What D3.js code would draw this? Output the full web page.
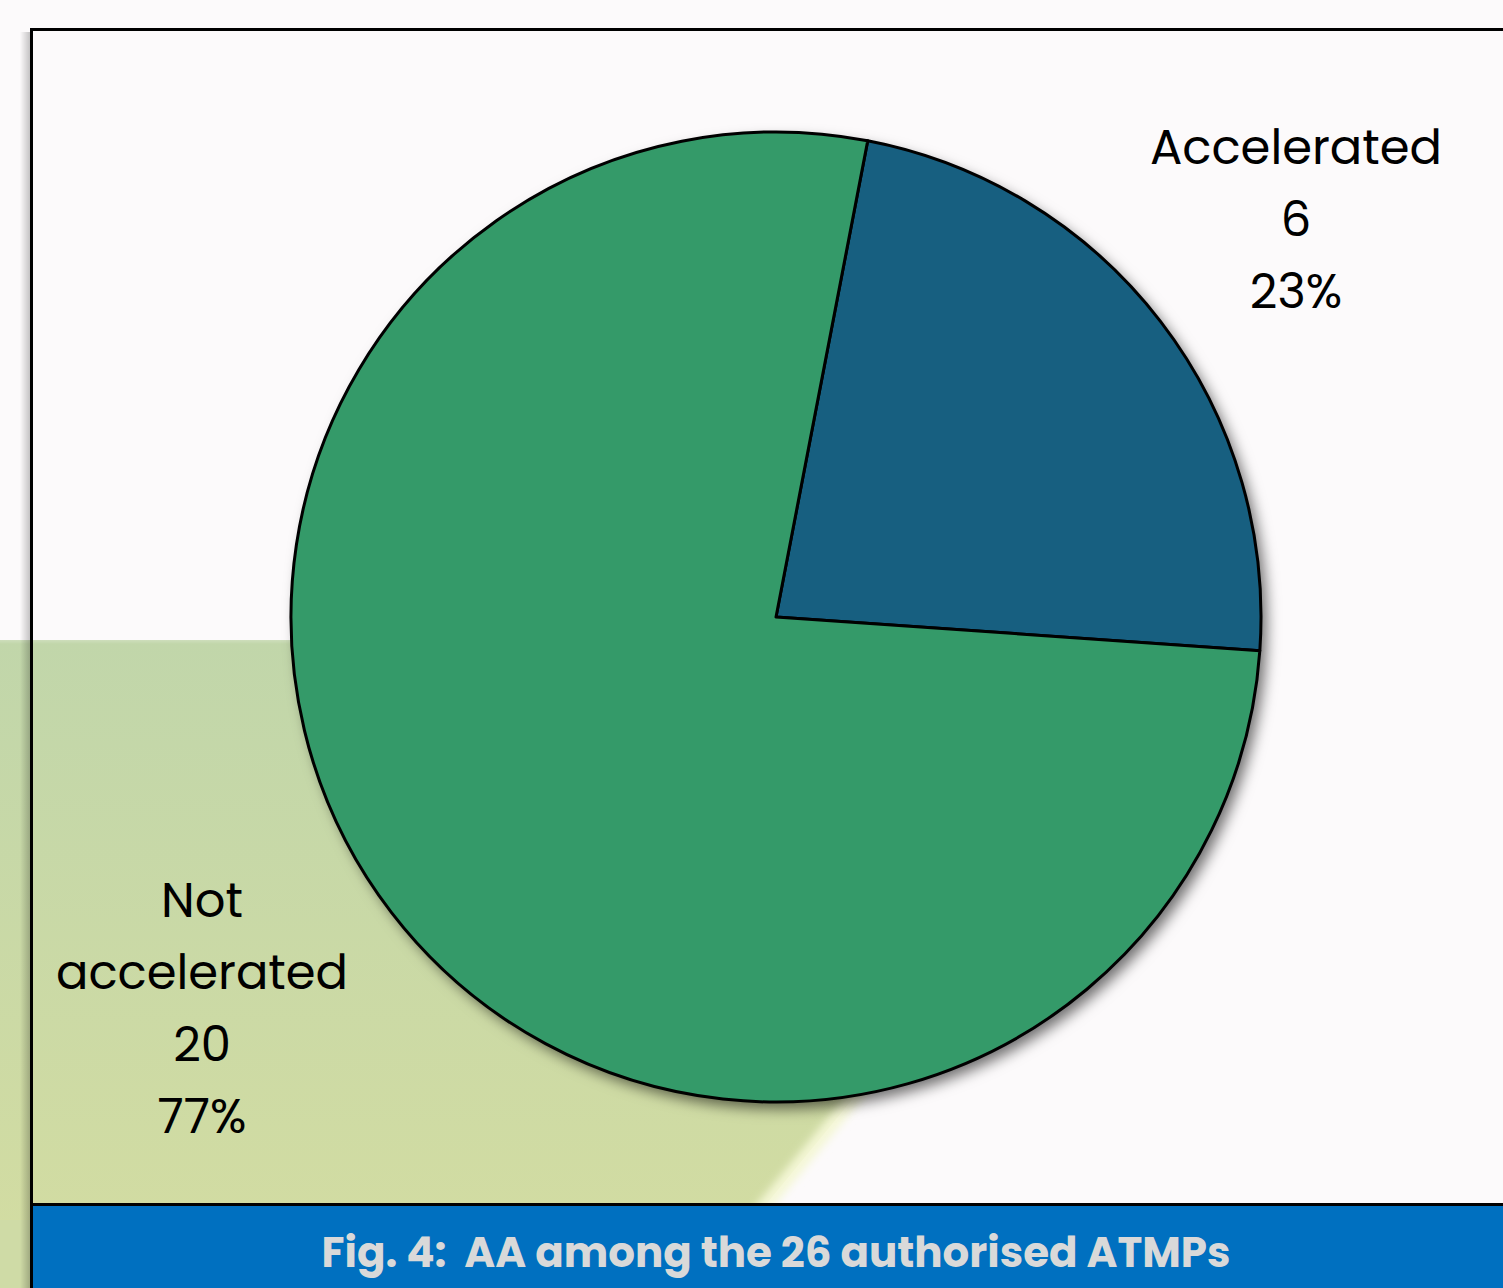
<!DOCTYPE html>
<html>
<head>
<meta charset="utf-8">
<script src="https://cdn.jsdelivr.net/npm/d3@7"></script>
<style>
  html, body { margin: 0; padding: 0; background: #fcfafb; }
  svg { display: block; }
</style>
</head>
<body>
<div id="chart"></div>
<script>
const categories = ["Accelerated", "Not accelerated"];
const counts = [6, 20];
const colors = ["#175f80", "#349a69"];
const caption = "Fig. 4:  AA among the 26 authorised ATMPs";

const width = 1503;
const height = 1288;

const svg = d3.select("#chart").append("svg")
    .attr("width", width)
    .attr("height", height)
    .attr("viewBox", [0, 0, width, height]);

const defs = svg.append("defs");

// drop shadow under the pie
const shadow = defs.append("filter")
    .attr("id", "shadow")
    .attr("x", "-10%").attr("y", "-10%")
    .attr("width", "125%").attr("height", "125%");
shadow.append("feDropShadow")
    .attr("dx", 6).attr("dy", 7)
    .attr("stdDeviation", 7)
    .attr("flood-color", "#000")
    .attr("flood-opacity", 0.55);

const frameShadow = defs.append("linearGradient").attr("id", "frameShadow");
frameShadow.append("stop").attr("offset", "0%").attr("stop-color", "#000").attr("stop-opacity", 0);
frameShadow.append("stop").attr("offset", "100%").attr("stop-color", "#000").attr("stop-opacity", 0.22);

const bgGrad = defs.append("linearGradient").attr("id", "bgGrad")
    .attr("x1", 0).attr("y1", 0).attr("x2", 0).attr("y2", 1);
bgGrad.append("stop").attr("offset", "0%").attr("stop-color", "#c1d6aa");
bgGrad.append("stop").attr("offset", "100%").attr("stop-color", "#d2dca2");

const fadeTop = defs.append("linearGradient").attr("id", "fadeTop")
    .attr("x1", 0).attr("y1", 0).attr("x2", 0).attr("y2", 1);
fadeTop.append("stop").attr("offset", "0%").attr("stop-color", "#fcfafb").attr("stop-opacity", 1);
fadeTop.append("stop").attr("offset", "100%").attr("stop-color", "#fcfafb").attr("stop-opacity", 0);

const blur = defs.append("filter").attr("id", "blur");
blur.append("feGaussianBlur").attr("stdDeviation", 4);

// background decoration (greenish shape in lower left)
svg.append("path")
    .attr("d", `M0,640 L1230,640 L745,1230 L0,1230 Z`)
    .attr("fill", "url(#bgGrad)");
svg.append("line")
    .attr("x1", 1230).attr("y1", 640)
    .attr("x2", 750).attr("y2", 1224)
    .attr("stroke", "#f4f7d6")
    .attr("stroke-width", 14)
    .attr("filter", "url(#blur)");
svg.append("rect")
    .attr("x", 0).attr("y", 626)
    .attr("width", 1250).attr("height", 18)
    .attr("fill", "url(#fadeTop)");
svg.append("rect")
    .attr("x", 0).attr("y", 1220)
    .attr("width", 30).attr("height", 68)
    .attr("fill", "#cfdba6");

// frame shadow on the left
svg.append("rect")
    .attr("x", 20).attr("y", 32)
    .attr("width", 10).attr("height", height)
    .attr("fill", "url(#frameShadow)");

// frame
svg.append("path")
    .attr("d", `M31.5,${height} V29.5 H${width}`)
    .attr("fill", "none")
    .attr("stroke", "#000")
    .attr("stroke-width", 3);

// pie
const cx = 776, cy = 617, r = 485;
const offset = 10.9 * Math.PI / 180;

const pie = d3.pie()
    .sort(null)
    .startAngle(offset)
    .endAngle(offset + 2 * Math.PI);

const arc = d3.arc().innerRadius(0).outerRadius(r);

const arcs = pie(counts);

const g = svg.append("g")
    .attr("transform", `translate(${cx},${cy})`);

g.append("circle")
    .attr("r", r)
    .attr("fill", colors[1])
    .attr("filter", "url(#shadow)");

g.selectAll("path")
    .data(arcs)
    .join("path")
    .attr("d", arc)
    .attr("fill", (d, i) => colors[i])
    .attr("stroke", "#000")
    .attr("stroke-width", 3)
    .attr("stroke-linejoin", "round");

// labels
const total = d3.sum(counts);
const labelFont = "Poppins, 'Open Sans', sans-serif";
const labelLines = [
    [categories[0], String(counts[0]), Math.round(counts[0] / total * 100) + "%"],
    ["Not", "accelerated", String(counts[1]), Math.round(counts[1] / total * 100) + "%"]
];
const labelPos = [
    { x: 1296, y: 164 },
    { x: 202, y: 917 }
];

labelLines.forEach((lines, i) => {
    const t = svg.append("text")
        .attr("text-anchor", "middle")
        .attr("font-family", labelFont)
        .attr("font-size", 48)
        .attr("fill", "#000");
    lines.forEach((s, j) => {
        t.append("tspan")
            .attr("x", labelPos[i].x)
            .attr("y", labelPos[i].y + j * 72)
            .text(s);
    });
});

// caption bar
svg.append("rect")
    .attr("x", 33).attr("y", 1206)
    .attr("width", width - 33).attr("height", height - 1206)
    .attr("fill", "#0070c0");
svg.append("line")
    .attr("x1", 31).attr("x2", width)
    .attr("y1", 1204.5).attr("y2", 1204.5)
    .attr("stroke", "#000")
    .attr("stroke-width", 3);
svg.append("text")
    .attr("x", 776)
    .attr("y", 1267)
    .attr("text-anchor", "middle")
    .attr("font-family", "Poppins, 'Open Sans', sans-serif")
    .attr("font-weight", "bold")
    .attr("font-size", 42)
    .attr("fill", "#d9d9d9")
    .style("white-space", "pre")
    .text(caption);
</script>
</body>
</html>
